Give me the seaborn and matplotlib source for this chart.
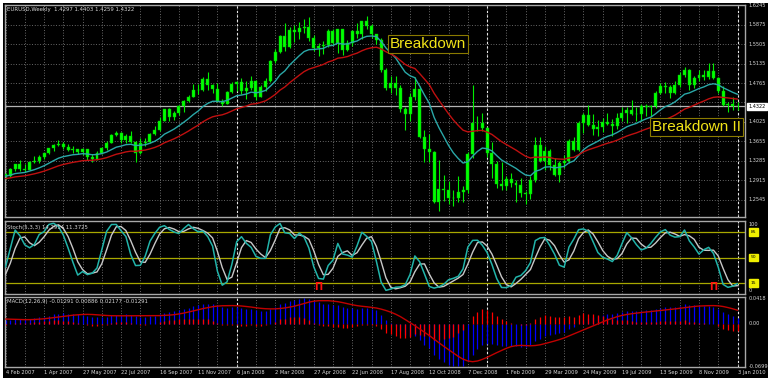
import numpy as np
import pandas as pd
import matplotlib
matplotlib.use("Agg")
import matplotlib.pyplot as plt
import matplotlib.patches as mpatches
import seaborn as sns

W, H = 768, 387

# ---- warm-up weeks (Aug 2006 - Feb 2 2007), used only for indicator history
warm_close = [1.2880, 1.2760, 1.2870, 1.2770, 1.2820, 1.2700, 1.2680, 1.2800, 1.2680, 1.2560,
              1.2520, 1.2600, 1.2730, 1.2740, 1.2870, 1.2840, 1.3100, 1.3300, 1.3270, 1.3140,
              1.3150, 1.3200, 1.3000, 1.2930, 1.2960, 1.2947, 1.3045]
warm_high = [1.2900, 1.2910, 1.2890, 1.2870, 1.2880, 1.2860, 1.2780, 1.2820, 1.2830, 1.2730,
             1.2620, 1.2620, 1.2780, 1.2790, 1.2890, 1.2900, 1.3120, 1.3360, 1.3370, 1.3300,
             1.3200, 1.3250, 1.3290, 1.3030, 1.3000, 1.2995, 1.3060]
warm_low = [1.2690, 1.2740, 1.2710, 1.2740, 1.2730, 1.2690, 1.2640, 1.2640, 1.2660, 1.2550,
            1.2480, 1.2500, 1.2580, 1.2670, 1.2710, 1.2810, 1.2830, 1.3090, 1.3180, 1.3060,
            1.3080, 1.3120, 1.2990, 1.2890, 1.2880, 1.2865, 1.2930]

# ---- visible weekly bars, week of 4 Feb 2007 ... week of 3 Jan 2010
close = [1.2989, 1.3127, 1.3223, 1.3124, 1.3121, 1.3258, 1.3276, 1.3356, 1.3432, 1.3525,
         1.3592, 1.3614, 1.3541, 1.3492, 1.3510, 1.3453, 1.3504, 1.3368, 1.3323, 1.3437,
         1.3528, 1.3629, 1.3779, 1.3822, 1.3687, 1.3758, 1.3641, 1.3437, 1.3616, 1.3642,
         1.3802, 1.3878, 1.4052, 1.4267, 1.4120, 1.4189, 1.4327, 1.4414, 1.4508, 1.4634,
         1.4627, 1.4840, 1.4730, 1.4656, 1.4417, 1.4360, 1.4589, 1.4746, 1.4786, 1.4612,
         1.4671, 1.4807, 1.4504, 1.4693, 1.4797, 1.5190, 1.5352, 1.5658, 1.5440, 1.5779,
         1.5734, 1.5808, 1.5834, 1.5617, 1.5423, 1.5473, 1.5484, 1.5757, 1.5534, 1.5786,
         1.5388, 1.5518, 1.5751, 1.5695, 1.5942, 1.5857, 1.5698, 1.5585, 1.5008, 1.4677,
         1.4770, 1.4671, 1.4276, 1.4167, 1.4497, 1.4650, 1.3740, 1.3513, 1.3445, 1.2505,
         1.2746, 1.2725, 1.2572, 1.2587, 1.2698, 1.2723, 1.3420, 1.4004, 1.4011, 1.3913,
         1.3439, 1.3226, 1.2851, 1.2800, 1.2936, 1.2869, 1.2830, 1.2669, 1.2659, 1.2930,
         1.3588, 1.3280, 1.3482, 1.3206, 1.3024, 1.3241, 1.3274, 1.3660, 1.3496, 1.3998,
         1.4164, 1.3965, 1.3900, 1.3938, 1.4030, 1.3989, 1.3955, 1.4093, 1.4200, 1.4258,
         1.4180, 1.4175, 1.4320, 1.4318, 1.4319, 1.4570, 1.4700, 1.4680, 1.4575, 1.4720,
         1.4910, 1.5005, 1.4725, 1.4860, 1.4910, 1.4875, 1.4984, 1.4860, 1.4606, 1.4350,
         1.4375, 1.4321, 1.4322]
high = [1.3050, 1.3150, 1.3235, 1.3295, 1.3230, 1.3285, 1.3375, 1.3390, 1.3440, 1.3535,
        1.3610, 1.3680, 1.3640, 1.3600, 1.3560, 1.3520, 1.3525, 1.3520, 1.3420, 1.3465,
        1.3545, 1.3660, 1.3790, 1.3850, 1.3840, 1.3800, 1.3850, 1.3660, 1.3720, 1.3720,
        1.3820, 1.3940, 1.4110, 1.4280, 1.4290, 1.4240, 1.4345, 1.4440, 1.4530, 1.4750,
        1.4740, 1.4870, 1.4970, 1.4740, 1.4760, 1.4470, 1.4620, 1.4790, 1.4810, 1.4860,
        1.4800, 1.4900, 1.4820, 1.4720, 1.4860, 1.5200, 1.5420, 1.5680, 1.5905, 1.5830,
        1.5860, 1.5920, 1.5980, 1.6019, 1.5680, 1.5530, 1.5560, 1.5790, 1.5800, 1.5800,
        1.5800, 1.5580, 1.5770, 1.5910, 1.5950, 1.6038, 1.5880, 1.5700, 1.5620, 1.5050,
        1.4900, 1.4900, 1.4720, 1.4300, 1.4580, 1.4870, 1.4700, 1.3880, 1.3800, 1.3470,
        1.3300, 1.3010, 1.2900, 1.2730, 1.3000, 1.2800, 1.3460, 1.4720, 1.4140, 1.4200,
        1.3930, 1.3640, 1.3290, 1.3260, 1.3000, 1.3050, 1.2930, 1.2960, 1.2720, 1.3000,
        1.3740, 1.3740, 1.3570, 1.3520, 1.3340, 1.3280, 1.3390, 1.3700, 1.3740, 1.4050,
        1.4200, 1.4340, 1.4180, 1.4060, 1.4100, 1.4200, 1.4080, 1.4190, 1.4300, 1.4300,
        1.4450, 1.4300, 1.4360, 1.4370, 1.4350, 1.4620, 1.4770, 1.4790, 1.4720, 1.4800,
        1.4970, 1.5060, 1.5030, 1.4900, 1.5010, 1.5010, 1.5145, 1.5140, 1.4880, 1.4700,
        1.4400, 1.4500, 1.4403]
low = [1.2935, 1.2980, 1.3090, 1.3100, 1.3080, 1.3110, 1.3240, 1.3250, 1.3320, 1.3410,
       1.3480, 1.3560, 1.3510, 1.3480, 1.3430, 1.3410, 1.3390, 1.3310, 1.3255, 1.3300,
       1.3420, 1.3500, 1.3620, 1.3760, 1.3630, 1.3620, 1.3630, 1.3260, 1.3420, 1.3560,
       1.3620, 1.3780, 1.3850, 1.4050, 1.4050, 1.4060, 1.4150, 1.4210, 1.4400, 1.4500,
       1.4550, 1.4620, 1.4630, 1.4570, 1.4400, 1.4330, 1.4360, 1.4580, 1.4610, 1.4560,
       1.4460, 1.4640, 1.4440, 1.4500, 1.4620, 1.4780, 1.5150, 1.5330, 1.5380, 1.5430,
       1.5550, 1.5600, 1.5710, 1.5560, 1.5380, 1.5285, 1.5310, 1.5440, 1.5480, 1.5330,
       1.5300, 1.5380, 1.5460, 1.5620, 1.5600, 1.5800, 1.5620, 1.5500, 1.4980, 1.4640,
       1.4580, 1.4540, 1.4220, 1.3880, 1.4050, 1.4450, 1.3720, 1.3270, 1.3260, 1.2480,
       1.2330, 1.2520, 1.2460, 1.2420, 1.2510, 1.2500, 1.2680, 1.3340, 1.3850, 1.3860,
       1.3360, 1.2960, 1.2770, 1.2730, 1.2730, 1.2780, 1.2510, 1.2600, 1.2457, 1.2560,
       1.2880, 1.3260, 1.3120, 1.3110, 1.3000, 1.2890, 1.3150, 1.3250, 1.3470, 1.3480,
       1.3820, 1.3950, 1.3770, 1.3750, 1.3830, 1.3960, 1.3750, 1.3890, 1.4040, 1.4010,
       1.4150, 1.4050, 1.4050, 1.4130, 1.4130, 1.4290, 1.4550, 1.4580, 1.4480, 1.4560,
       1.4690, 1.4870, 1.4630, 1.4670, 1.4810, 1.4830, 1.4850, 1.4840, 1.4580, 1.4320,
       1.4220, 1.4250, 1.4259]

date_labels = ["4 Feb 2007", "1 Apr 2007", "27 May 2007", "22 Jul 2007", "16 Sep 2007",
               "11 Nov 2007", "6 Jan 2008", "2 Mar 2008", "27 Apr 2008", "22 Jun 2008",
               "17 Aug 2008", "12 Oct 2008", "7 Dec 2008", "1 Feb 2009", "29 Mar 2009",
               "24 May 2009", "19 Jul 2009", "13 Sep 2009", "8 Nov 2009", "3 Jan 2010"]
label_step = 8
grid_step = 4
year_sep_idx = [48, 100, 152]
price_ticks = [1.6245, 1.5875, 1.5505, 1.5135, 1.4765, 1.4395, 1.4025, 1.3655, 1.3285, 1.2915, 1.2545]
stoch_levels = [15, 50, 85]
stoch_signal_idx = [65, 147]
annotations = [("Breakdown", 390, 44), ("Breakdown II", 652, 127)]
header = "EURUSD,Weekly  1.4297 1.4403 1.4259 1.4322"

# ---- indicators computed from the bars
nw = len(warm_close)
C = pd.Series(warm_close + close)
Hh = pd.Series(warm_high + high)
Ll = pd.Series(warm_low + low)
O = C.shift(1).fillna(C.iloc[0])

ema_fast = C.ewm(span=13, adjust=False).mean()
ema_slow = C.ewm(span=26, adjust=False).mean()

ll5 = Ll.rolling(5).min()
hh5 = Hh.rolling(5).max()
k = 100 * (C - ll5).rolling(3).sum() / (hh5 - ll5).rolling(3).sum()
d = k.rolling(3).mean()

macd = C.ewm(span=12, adjust=False).mean() - C.ewm(span=26, adjust=False).mean()
sig = macd.rolling(9).mean()
osma = macd - sig

vis = slice(nw, None)
n = len(close)
x = np.arange(n)
o_v = O.iloc[vis].to_numpy(); c_v = np.array(close)
h_v = np.array(high); l_v = np.array(low)

# ---- figure
sns.set_style("dark")
plt.rcParams['font.family'] = ['DejaVu Sans']
fig = plt.figure(figsize=(W / 100, H / 100), dpi=100)
fig.patch.set_facecolor('white')
fig.patches.append(mpatches.Rectangle((3 / W, 1 - 378 / H), 765 / W, 375 / H,
                                      transform=fig.transFigure, facecolor='black',
                                      edgecolor='none', zorder=-10))


def rect(x0, y0, x1, y1):
    return [x0 / W, 1 - y1 / H, (x1 - x0) / W, (y1 - y0) / H]


def ftext(px, py, s, **kw):
    fig.text(px / W, 1 - py / H, s, **kw)


PX = 4.816
XL = (-0.5 / PX, (745 - 5.5) / PX)
ax_m = fig.add_axes(rect(5, 5, 745, 217))
ax_s = fig.add_axes(rect(5, 221, 745, 294))
ax_d = fig.add_axes(rect(5, 297, 745, 367))
GRID = dict(color='#8a8a8a', lw=0.6, ls=(0, (1, 2.2)), zorder=0.5)
for ax in (ax_m, ax_s, ax_d):
    ax.set_facecolor('black')
    ax.set_xlim(XL)
    ax.grid(False)
    for s in ax.spines.values():
        s.set_color('#a8a8a8')
        s.set_linewidth(1.0)
    for g in range(0, n, grid_step):
        ax.axvline(g, **GRID)
    for g in year_sep_idx:
        ax.axvline(g, color='#e8e8e8', lw=0.8, ls=(0, (2, 2)), zorder=0.6)

# ---- main price panel
ymin, ymax = 1.2219, 1.6247
ax_m.set_ylim(ymin, ymax)
for p in price_ticks:
    ax_m.axhline(p, **GRID)
ax_m.vlines(x, l_v, h_v, color='#00ee00', lw=0.8, zorder=2)
body_lo = np.minimum(o_v, c_v)
body_h = np.maximum(np.abs(c_v - o_v), 0.0010)
ax_m.bar(x, body_h, bottom=body_lo, width=0.62, color='#00ff00', edgecolor='#00c000',
         linewidth=0.3, zorder=3)
sns.lineplot(x=x, y=ema_fast.iloc[vis].to_numpy(), ax=ax_m, color='#2aa8a8', lw=1.0,
             legend=False, zorder=4)
sns.lineplot(x=x, y=ema_slow.iloc[vis].to_numpy(), ax=ax_m, color='#c01010', lw=1.0,
             legend=False, zorder=4)
bid = close[-1]
ax_m.axhline(bid, color='#b4b4b4', lw=0.9, zorder=1)
ytr = ax_m.get_yaxis_transform()
for p in price_ticks:
    if abs(p - bid) > 0.008:
        ax_m.text(1.005, p, f"{p:.4f}", transform=ytr, fontsize=3.6, color='#d8d8d8',
                  va='center', ha='left', clip_on=False)
ax_m.text(1.005, bid, f"{bid:.4f}", transform=ytr, fontsize=3.6, color='black',
          va='center', ha='left', clip_on=False,
          bbox=dict(boxstyle='square,pad=0.25', fc='white', ec='white'))
ax_m.set_xticks([]); ax_m.set_yticks([]); ax_m.set_xlabel(''); ax_m.set_ylabel('')
ftext(7, 9, header, fontsize=3.9, color='#d8d8d8', va='center', ha='left')
for txt, px, py in annotations:
    ftext(px, py, txt, fontsize=11, color='#f2e418', va='center', ha='left',
          family=['Liberation Sans', 'DejaVu Sans'],
          bbox=dict(boxstyle='square,pad=0.12', fc='black', ec='#8a7a00', lw=0.8))

# ---- stochastic panel
ax_s.set_ylim(0, 100)
for lv in stoch_levels:
    ax_s.axhline(lv, color='#a8a800', lw=0.9, zorder=1)
sns.lineplot(x=x, y=d.iloc[vis].to_numpy(), ax=ax_s, color='#c8c8c8', lw=1.0,
             legend=False, zorder=3)
sns.lineplot(x=x, y=k.iloc[vis].to_numpy(), ax=ax_s, color='#22b4aa', lw=1.1,
             legend=False, zorder=4)
for si in stoch_signal_idx:
    ax_s.text(si, 10, "Π", color='#ff1010', fontsize=7, fontweight='bold',
              ha='center', va='center', zorder=5)
ax_s.set_xticks([]); ax_s.set_yticks([]); ax_s.set_xlabel(''); ax_s.set_ylabel('')
ftext(7, 227, f"Stoch(5,3,3) {k.iloc[-1]:.4f} {d.iloc[-1]:.4f}", fontsize=3.9,
      color='#d8d8d8', va='center', ha='left')
str_ = ax_s.get_yaxis_transform()
ax_s.text(1.005, 95, "100", transform=str_, fontsize=3.6, color='#d8d8d8', va='center',
          ha='left', clip_on=False)
ax_s.text(1.005, 5, "0", transform=str_, fontsize=3.6, color='#d8d8d8', va='center',
          ha='left', clip_on=False)
for lv in stoch_levels:
    ax_s.text(1.008, lv, f"{lv}", transform=str_, fontsize=3.2, color='black',
              va='center', ha='left', clip_on=False,
              bbox=dict(boxstyle='square,pad=0.35', fc='#f0f000', ec='#f0f000'))

# ---- MACD panel
m_v = macd.iloc[vis].to_numpy(); s_v = sig.iloc[vis].to_numpy(); o_sm = osma.iloc[vis].to_numpy()
lo = min(m_v.min(), s_v.min(), o_sm.min())
hi = max(m_v.max(), s_v.max(), o_sm.max())
ax_d.set_ylim(lo * 1.02, hi * 1.04)
ax_d.vlines(x, 0, m_v, color='#0000ff', lw=0.9, zorder=2)
ax_d.vlines(x, 0, o_sm, color='#ff0000', lw=0.9, zorder=3)
sns.lineplot(x=x, y=s_v, ax=ax_d, color='#c00000', lw=1.0, legend=False, zorder=4)
ax_d.set_xticks([]); ax_d.set_yticks([]); ax_d.set_xlabel(''); ax_d.set_ylabel('')
ftext(7, 302, f"MACD(12,26,9) {o_sm[-1]:.5f} {m_v[-1]:.5f} {s_v[-1]:.5f} {o_sm[-1]:.5f}",
      fontsize=3.9, color='#d8d8d8', va='center', ha='left')
dtr = ax_d.get_yaxis_transform()
for val in (hi, 0.0, lo):
    lab = "0.00" if val == 0.0 else f"{val:.4f}"
    ax_d.text(1.005, val, lab, transform=dtr, fontsize=3.6, color='#d8d8d8',
              va='center', ha='left', clip_on=False)

# ---- date labels
xtr = ax_d.get_xaxis_transform()
for i, lab in enumerate(date_labels):
    ax_d.text(i * label_step, -0.075, lab, transform=xtr, fontsize=3.7, color='#d8d8d8',
              va='center', ha='left', clip_on=False)

fig.savefig("out.png", dpi=100, facecolor=fig.get_facecolor())
